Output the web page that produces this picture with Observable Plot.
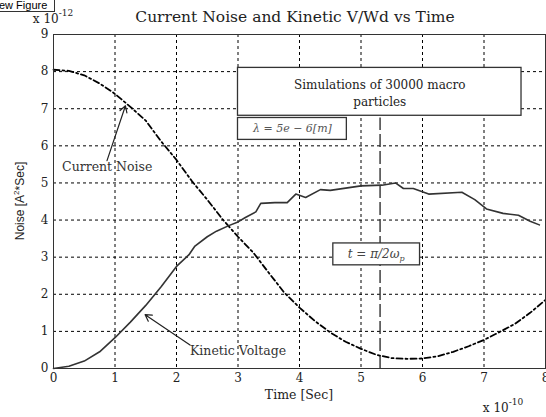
<!DOCTYPE html>
<html><head><meta charset="utf-8">
<script src="https://cdn.jsdelivr.net/npm/d3@7"></script>
<script src="https://cdn.jsdelivr.net/npm/@observablehq/plot@0.6"></script>
<style>
body{margin:0;background:#fff;}
#wrap{position:relative;width:546px;height:417px;overflow:hidden;background:#fff;}
#wrap svg{position:absolute;left:0;top:0;}
#btn{position:absolute;left:-1px;top:-1px;width:55px;height:12px;border-right:1px solid #333;border-bottom:1px solid #333;
font:11px "Liberation Sans",sans-serif;line-height:12px;color:#000;background:#fff;z-index:2;white-space:nowrap;overflow:hidden;}
</style></head><body>
<div id="wrap"><div id="btn">ew Figure</div></div>
<script>
// Current Noise (dash-dot), values x 1e-12 vs time x 1e-10
const noiseT = [0,0.25,0.5,0.75,1,1.25,1.5,1.75,2,2.25,2.5,2.75,3,3.25,3.5,3.75,4,4.25,4.5,4.75,5,5.25,5.5,5.75,6,6.25,6.5,6.75,7,7.25,7.5,7.75,8];
const noiseV = [8.05,8.02,7.9,7.68,7.4,7.05,6.68,6.12,5.62,5.05,4.55,4.02,3.55,3.12,2.58,2.05,1.64,1.28,0.97,0.72,0.53,0.37,0.28,0.26,0.27,0.33,0.45,0.6,0.77,0.98,1.2,1.5,1.85];
// Kinetic Voltage (solid)
const kinT = [0,0.25,0.5,0.75,1,1.25,1.5,1.75,2,2.2,2.3,2.5,2.65,2.85,3,3.12,3.29,3.37,3.6,3.8,3.94,4.1,4.34,4.5,5,5.34,5.56,5.69,5.85,6.1,6.64,6.85,7.04,7.31,7.56,7.75,7.9];
const kinV = [0,0.06,0.2,0.45,0.83,1.25,1.7,2.2,2.75,3.06,3.3,3.55,3.7,3.85,3.95,4.07,4.22,4.45,4.47,4.47,4.7,4.61,4.82,4.8,4.92,4.94,5.0,4.85,4.85,4.7,4.75,4.55,4.3,4.18,4.13,3.97,3.87];
const xTicks = [0,1,2,3,4,5,6,7,8];
const yTicks = [0,1,2,3,4,5,6,7,8,9];
const vlineT = 5.31;

const noise = noiseT.map((t,i)=>({t, v:noiseV[i]}));
const kin = kinT.map((t,i)=>({t, v:kinV[i]}));

// annotations (data units)
const simBox = {x1:3.0, x2:7.61, y1:6.81, y2:8.1, text:"Simulations of 30000 macro\nparticles"};
const lamBox = {x1:3.0, x2:4.77, y1:6.16, y2:6.75, text:"λ = 5e − 6[m]"};
const tBox = {x1:4.55, x2:5.96, y1:2.78, y2:3.37};
const arrows = [
  {x1:0.87, y1:5.6, x2:1.17, y2:7.08},
  {x1:2.22, y1:0.63, x2:1.49, y2:1.45}
];
const labels = [
  {x:0.14, y:5.43, text:"Current Noise"},
  {x:2.22, y:0.48, text:"Kinetic Voltage"}
];

const serif = "DejaVu Serif";
const chart = Plot.plot({
  width: 546, height: 417,
  marginLeft: 53, marginRight: 1, marginTop: 34, marginBottom: 49,
  x: {domain:[0,8]}, y: {domain:[0,9]},
  style: {fontFamily: serif, fontSize: "12px", color: "#222", background: "transparent", overflow: "visible"},
  marks: [
    Plot.gridX(xTicks.slice(1,-1), {stroke:"#000", strokeOpacity:1, strokeWidth:1, strokeDasharray:"3,3"}),
    Plot.gridY(yTicks.slice(1,-1), {stroke:"#000", strokeOpacity:1, strokeWidth:1, strokeDasharray:"3,3"}),
    Plot.ruleX([vlineT], {y1:0, y2:6.75, stroke:"#222", strokeWidth:1.3, strokeDasharray:"13,4"}),
    Plot.line(noise, {x:"t", y:"v", stroke:"#000", strokeWidth:1.8, strokeDasharray:"6,3,2,3"}),
    Plot.line(kin, {x:"t", y:"v", stroke:"#333", strokeWidth:1.6}),
    Plot.rect([simBox, lamBox, tBox], {x1:"x1", x2:"x2", y1:"y1", y2:"y2", fill:"white", stroke:"#333", strokeWidth:1.3}),
    Plot.text([simBox], {x:d=>(d.x1+d.x2)/2, y:d=>(d.y1+d.y2)/2, text:"text", fontSize:12, lineHeight:1.45, fill:"#222"}),
    Plot.text([lamBox], {x:d=>(d.x1+d.x2)/2, y:d=>(d.y1+d.y2)/2, text:"text", fontSize:11, fontStyle:"italic", fill:"#555"}),
    Plot.arrow(arrows, {x1:"x1", y1:"y1", x2:"x2", y2:"y2", stroke:"#222", strokeWidth:1.2, headLength:9}),
    Plot.text(labels, {x:"x", y:"y", text:"text", textAnchor:"start", fontSize:12.5, fill:"#333"}),
    Plot.frame({stroke:"#333", strokeWidth:1}),
    Plot.axisX({ticks:xTicks, tickSize:0, tickPadding:5, tickFormat:d=>String(d), label:null, fontSize:12}),
    Plot.axisY({ticks:yTicks, tickSize:0, tickPadding:5, tickFormat:d=>String(d), label:null, fontSize:12})
  ]
});
document.getElementById("wrap").appendChild(chart);

const sx = chart.scale("x"), sy = chart.scale("y");
const svg = d3.select(chart);
const g = svg.append("g").attr("fill", "#222").attr("font-family", serif);

// title
g.append("text").attr("x", sx.apply(4) - 4).attr("y", 22).attr("text-anchor","middle")
  .attr("font-size", 15.5).text("Current Noise and Kinetic V/Wd vs Time");

// x 10^-12
const e1 = g.append("text").attr("x", sx.apply(0)).attr("y", 23).attr("font-size", 12);
e1.append("tspan").text("x 10");
e1.append("tspan").attr("font-size", 9).attr("dy", -7).text("-12");

// x 10^-10
const e2 = g.append("text").attr("x", 503).attr("y", 412).attr("font-size", 12);
e2.append("tspan").text("x 10");
e2.append("tspan").attr("font-size", 9).attr("dy", -7).text("-10");

// x label
g.append("text").attr("x", sx.apply(4)).attr("y", 399).attr("text-anchor","middle")
  .attr("font-size", 12.5).text("Time [Sec]");

// y label
const yl = g.append("text").attr("transform", `translate(24,${sy.apply(4.5)}) rotate(-90)`)
  .attr("text-anchor","middle").attr("font-family","Liberation Sans").attr("font-size", 12);
yl.append("tspan").text("Noise [A");
yl.append("tspan").attr("font-size", 8).attr("dy", -5).text("2");
yl.append("tspan").attr("dy", 5).text("*Sec]");

// t = pi/2 omega_p
const tt = g.append("text").attr("x", sx.apply((tBox.x1+tBox.x2)/2)).attr("y", sy.apply((tBox.y1+tBox.y2)/2) + 4)
  .attr("text-anchor","middle").attr("font-size", 12).attr("font-style","italic").attr("fill","#444");
tt.append("tspan").text("t = π/2ω");
tt.append("tspan").attr("font-size", 8).attr("dy", 3).text("p");
</script>
</body></html>
